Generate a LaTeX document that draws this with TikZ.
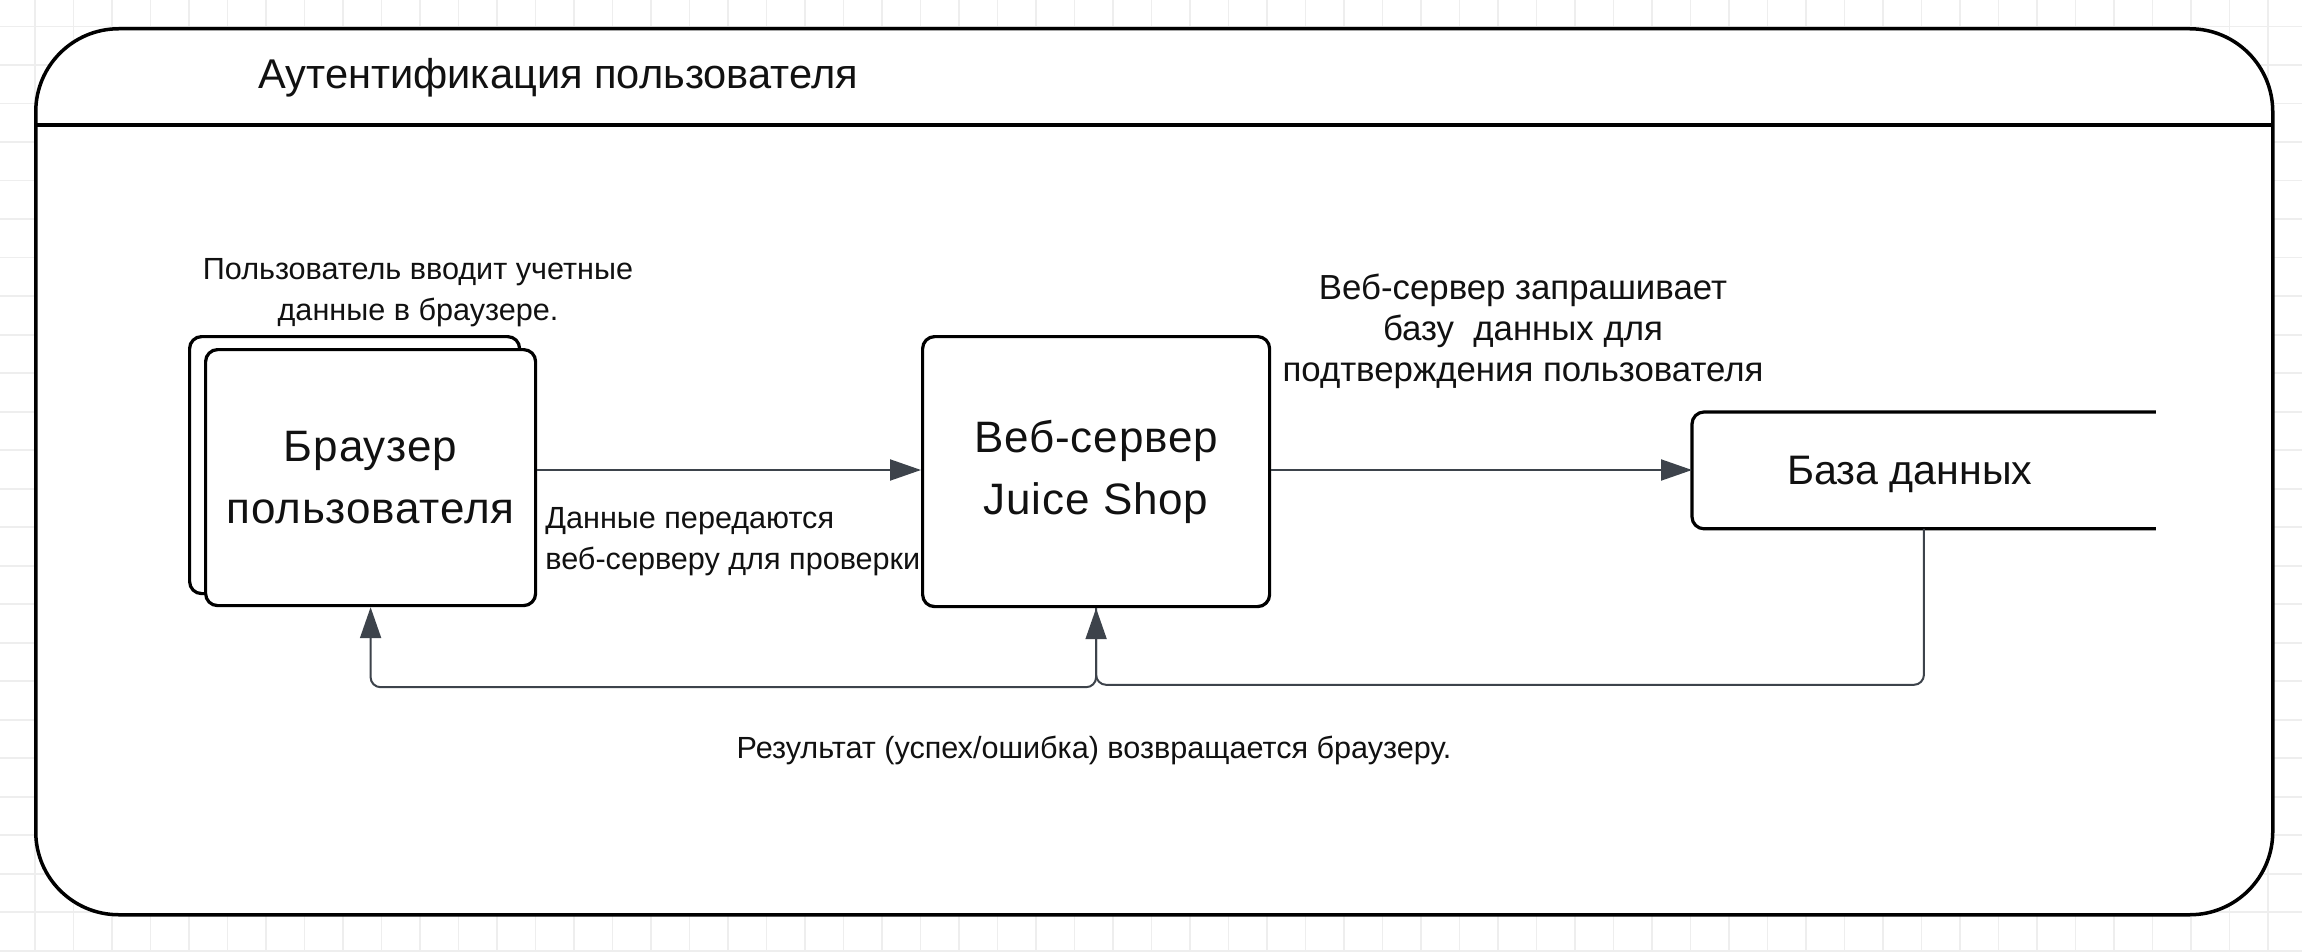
\documentclass[tikz,border=0pt]{standalone}
\usepackage{fontspec}
\setmainfont{Liberation Sans}
\newfontfamily\boxfont[LetterSpace=2]{Liberation Sans}
\usetikzlibrary{arrows.meta}
\definecolor{conn}{HTML}{3D434B}
\definecolor{gridc}{HTML}{EEEEEE}
\definecolor{ink}{HTML}{111111}
\begin{document}
\begin{tikzpicture}[x=0.5pt,y=-0.5pt,
  every node/.style={text=ink},
  boxnode/.style={draw=black, line width=1.6pt, rounded corners=6pt, fill=white,
    inner sep=0pt, anchor=north west, align=center,
    font=\boxfont\fontsize{22}{31}\selectfont},
  smalltext/.style={font=\fontsize{15.3}{20.5}\selectfont, inner sep=0pt, align=center},
  midtext/.style={font=\fontsize{17.4}{20.5}\selectfont, inner sep=0pt, align=center},
  conline/.style={draw=conn, line width=1pt, rounded corners=5pt,
    -{Triangle[length=15.5pt,width=10.5pt]}, color=conn}
]
\useasboundingbox (0,0) rectangle (2302,952);
\fill[white] (0,0) rectangle (2302,952);
% background grid
\foreach \k in {-1,...,60} {
  \draw[gridc, line width=0.8pt] ({35+38.5*\k},0) -- ({35+38.5*\k},952);
}
\foreach \k in {-1,...,25} {
  \draw[gridc, line width=0.8pt] (0,{26.7+38.5*\k}) -- (2302,{26.7+38.5*\k});
}
% frame
\node[draw=black, line width=1.75pt, fill=white, rounded corners=41.5pt,
  minimum width=1118.5pt, minimum height=443pt, inner sep=0pt, anchor=north west]
  (frame) at (34,27) {};
\coordinate (hl) at (34,125);
\coordinate (hr) at (2271,125);
\draw[line width=1.6pt, black] (hl) -- (hr);
\node[anchor=west, inner sep=0pt, font=\fontsize{20.8}{24}\selectfont] (title) at (258,78)
  {Аутентификация пользователя};

% nodes
\node[boxnode, minimum width=165pt, minimum height=128.5pt] (browserback) at (188,335) {};
\node[boxnode, minimum width=165pt, minimum height=128pt] (browser) at (204,348)
  {Браузер\\пользователя};
\node[boxnode, minimum width=173.5pt, minimum height=135pt] (web) at (921,335)
  {Веб-сервер\\Juice Shop};
\node[inner sep=0pt, minimum width=231.5pt, minimum height=58pt, anchor=north west]
  (db) at (1692,412) {};
\draw[line width=1.6pt, black, rounded corners=6pt]
  (db.north east) -- (db.north west) -- (db.south west) -- (db.south east);
\node[inner sep=0pt, font=\fontsize{20.6}{24}\selectfont] (dbtext) at ([xshift=-7pt,yshift=-2pt]db.center)
  {База данных};

% labels
\node[smalltext] (l1) at (418,293) {Пользователь вводит учетные\\данные в браузере.};
\node[midtext] (l2) at (1523,331) {Веб-сервер запрашивает\\базу\ \ данных для\\подтверждения пользователя};
\node[smalltext, align=left, anchor=west] (l3) at (545,542) {Данные передаются\\веб-серверу для проверки};
\node[smalltext] (l4) at (1094,750) {Результат (успех/ошибка) возвращается браузеру.};

% connectors
\draw[conline] (browser.east |- 0,470) -- (web.west |- 0,470);
\draw[conline] (web.east |- 0,470) -- (db.west |- 0,470);
\draw[conline] (db.south) -- ++(0,156) -| (web.south);
\draw[conline] (web.south) -- ++(0,79) -| (browser.south);
\end{tikzpicture}
\end{document}
